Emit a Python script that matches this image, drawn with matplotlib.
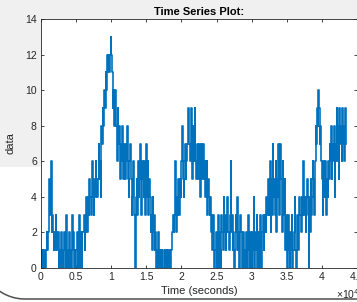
import numpy as np
import matplotlib.pyplot as plt
from matplotlib.patches import Rectangle
from matplotlib.lines import Line2D
from matplotlib.ticker import FuncFormatter, MultipleLocator

plt.rcParams['font.family'] = ['Liberation Sans', 'DejaVu Sans']

# one sample every 100 s (blocks of 1000 s)
sample_interval = 100
values = [
    1, 0, 1, 0, 1, 1, 0, 1, 2, 1,
    2, 3, 5, 3, 6, 2, 3, 2, 1, 2,
    1, 3, 2, 1, 2, 0, 1, 1, 0, 2,
    0, 1, 0, 2, 1, 0, 3, 1, 0, 1,
    2, 0, 1, 0, 3, 1, 2, 0, 1, 0,
    1, 2, 0, 1, 3, 0, 1, 2, 0, 2,
    2, 3, 1, 2, 4, 3, 2, 4, 3, 5,
    4, 3, 5, 6, 4, 3, 5, 4, 6, 5,
    4, 5, 7, 5, 6, 4, 8, 7, 9, 8,
    10, 9, 11, 10, 12, 11, 12, 11, 12, 13,
    12, 11, 9, 10, 8, 9, 10, 8, 6, 9,
    7, 8, 6, 5, 7, 6, 8, 5, 7, 6,
    5, 7, 6, 8, 5, 4, 6, 7, 5, 3,
    4, 6, 5, 3, 0, 4, 5, 3, 6, 4,
    5, 7, 4, 3, 6, 5, 4, 6, 3, 5,
    7, 4, 6, 3, 5, 4, 2, 3, 1, 4,
    2, 3, 1, 2, 0, 1, 0, 2, 1, 0,
    1, 0, 1, 0, 0, 1, 0, 1, 0, 1,
    0, 1, 0, 1, 0, 1, 1, 2, 3, 2,
    3, 6, 2, 4, 3, 5, 4, 3, 5, 4,
    6, 8, 5, 4, 6, 7, 5, 6, 7, 8,
    9, 7, 6, 8, 9, 5, 8, 7, 6, 9,
    6, 5, 7, 6, 5, 7, 6, 4, 7, 5,
    6, 7, 5, 6, 4, 5, 6, 3, 5, 4,
    3, 4, 2, 3, 1, 3, 2, 0, 1, 2,
    0, 1, 3, 0, 2, 1, 0, 3, 2, 1,
    4, 2, 3, 1, 2, 4, 3, 2, 1, 3,
    6, 2, 3, 1, 2, 0, 1, 3, 2, 4,
    1, 2, 0, 1, 3, 2, 0, 1, 2, 0,
    1, 0, 2, 1, 0, 3, 1, 0, 2, 1,
    0, 2, 1, 4, 0, 2, 1, 3, 0, 1,
    2, 0, 3, 1, 0, 2, 3, 1, 2, 3,
    2, 4, 3, 5, 3, 4, 6, 2, 5, 3,
    7, 4, 5, 3, 6, 2, 5, 4, 7, 3,
    6, 7, 5, 2, 6, 4, 3, 5, 1, 3,
    2, 0, 3, 1, 0, 2, 1, 3, 0, 1,
    2, 4, 1, 0, 2, 3, 1, 2, 4, 3,
    2, 4, 3, 6, 5, 3, 4, 2, 4, 5,
    3, 0, 4, 2, 5, 3, 4, 6, 5, 3,
    6, 8, 7, 9, 8, 10, 9, 7, 8, 6,
    5, 3, 6, 5, 4, 6, 3, 5, 4, 6,
    5, 7, 6, 8, 5, 7, 6, 8, 4, 6,
    7, 9, 6, 8, 5, 9, 7, 8, 6, 9,
    7, 8, 6, 9, 7,
]
t = np.arange(len(values)) * sample_interval

fig = plt.figure(figsize=(3.57, 3.02), dpi=100, facecolor='#f0f0f0')

# white panel with rounded lower-left border (screenshot background)
tr = fig.dpi_scale_trans
fig.add_artist(Rectangle((-0.2, 0.0), 4.0, 1.35, transform=tr,
                         facecolor='white', edgecolor='none', zorder=0))
ang = np.linspace(np.pi, 1.5 * np.pi, 40)
cx, cy, r = 0.25, 0.48, 0.45
bx = np.concatenate([cx + r * np.cos(ang), [4.0]])
by = np.concatenate([cy + r * np.sin(ang), [cy - r]])
fig.add_artist(Line2D(bx, by, transform=tr, color='#505050', lw=1.1, zorder=0.5))

ax = fig.add_axes([41/357, 34/302, 316/357, 249/302])
ax.set_facecolor('white')
ax.plot(t, values, color='#0072BD', lw=1.2, drawstyle='steps-post')

ax.set_xlim(0, 45000)
ax.set_ylim(0, 14)
ax.xaxis.set_major_locator(MultipleLocator(5000))
ax.yaxis.set_major_locator(MultipleLocator(2))
ax.xaxis.set_major_formatter(FuncFormatter(lambda v, p: f'{v / 1e4:g}'))

ax.tick_params(direction='in', length=2.5, width=0.6, labelsize=7.5,
               colors='#262626', top=True, right=True, pad=3)
for s in ax.spines.values():
    s.set_color('#262626')
    s.set_linewidth(0.6)

ax.text(0.932, -0.104, '×10$^{4}$', transform=ax.transAxes, ha='left',
        va='center', fontsize=7.5, color='#262626')

ax.set_title('Time Series Plot:', fontsize=8, fontweight='bold', pad=3)
ax.set_xlabel('Time (seconds)', fontsize=8, color='#262626', labelpad=3)
ax.set_ylabel('data', fontsize=8, color='#262626', labelpad=7)

fig.savefig('out.png', dpi=100, facecolor=fig.get_facecolor())
